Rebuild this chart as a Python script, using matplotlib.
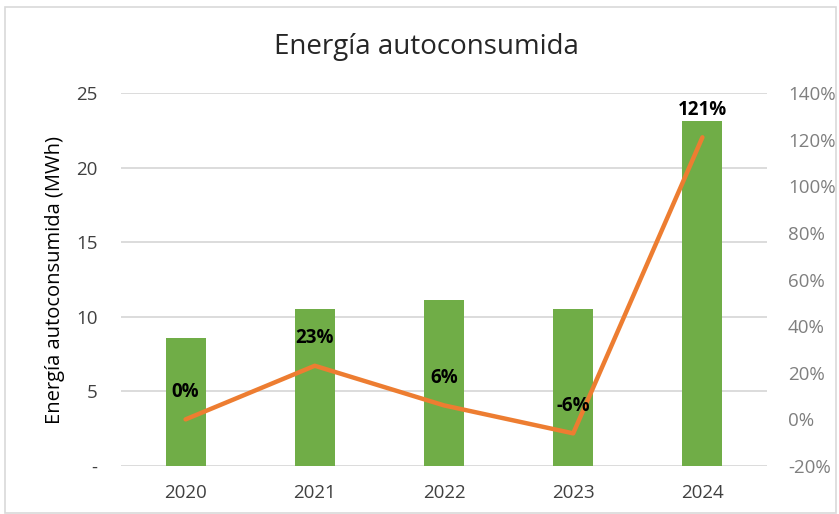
import matplotlib.pyplot as plt
from matplotlib.patches import Rectangle
from matplotlib.ticker import FuncFormatter

plt.rcParams['font.family'] = ['Open Sans', 'DejaVu Sans']

years = ['2020', '2021', '2022', '2023', '2024']
energia = [8.6, 10.5, 11.1, 10.5, 23.1]      # MWh
variacion = [0, 23, 6, -6, 121]              # %
etiquetas = ['0%', '23%', '6%', '-6%', '121%']

fig = plt.figure(figsize=(8.39, 5.14), dpi=100)
ax = fig.add_axes([0.1442, 0.0934, 0.77, 0.7256])
x = list(range(len(years)))

ax.bar(x, energia, width=0.31, color='#70AD47', zorder=2)
ax.set_ylim(0, 25)
ax.set_yticks([0, 5, 10, 15, 20, 25])
ax.yaxis.set_major_formatter(FuncFormatter(lambda v, p: '-' if v == 0 else f'{v:.0f}'))
ax.set_xlim(-0.5, 4.5)
ax.set_xticks(x)
ax.set_xticklabels(years)
ax.grid(axis='y', color='#d9d9d9', linewidth=1.3, zorder=0)
ax.set_axisbelow(True)
for s in ax.spines.values():
    s.set_visible(False)
ax.tick_params(axis='both', length=0, labelsize=13.5, colors='#404040')
ax.tick_params(axis='y', pad=17)
ax.tick_params(axis='x', pad=13)
ax.set_ylabel('Energía autoconsumida (MWh)', fontsize=14.5, color='black', labelpad=8)

ax2 = ax.twinx()
ax2.plot(x, variacion, color='#ED7D31', linewidth=3.2, solid_capstyle='round', zorder=3)
ax2.set_ylim(-20, 140)
ax2.set_yticks(range(-20, 141, 20))
ax2.yaxis.set_major_formatter(FuncFormatter(lambda v, p: f'{v:.0f}%'))
for s in ax2.spines.values():
    s.set_visible(False)
ax2.tick_params(axis='y', length=0, labelsize=13.5, colors='#7f7f7f', pad=15)

for xi, v, t in zip(x, variacion, etiquetas):
    ax2.annotate(t, (xi, v), xytext=(0, 20), textcoords='offset points',
                 ha='center', va='center', fontsize=13.5, fontweight='bold', color='black')

fig.text(0.508, 0.909, 'Energía autoconsumida', ha='center', va='center', fontsize=20, color='#262626')
fig.patches.append(Rectangle((0.006, 0.002), 0.99, 0.984, transform=fig.transFigure,
                             fill=False, edgecolor='#d9d9d9', linewidth=1.2))

fig.savefig('out.png', dpi=100)
